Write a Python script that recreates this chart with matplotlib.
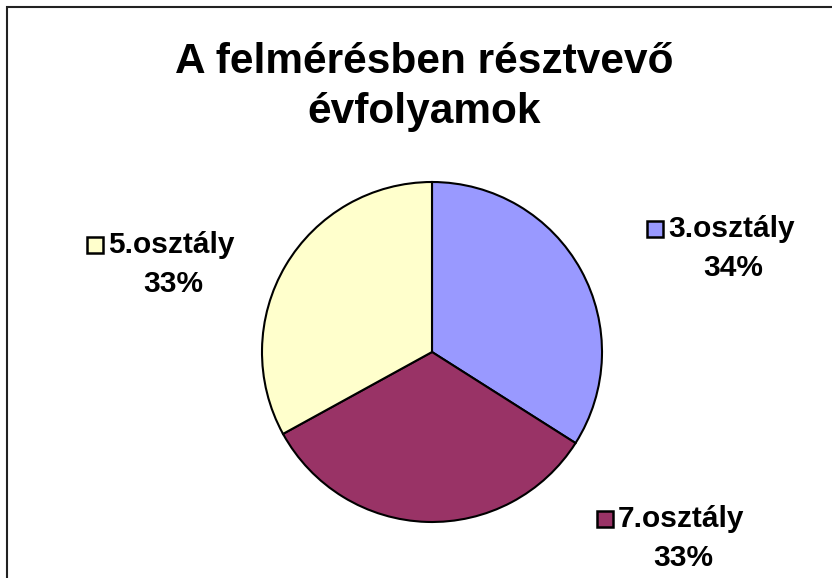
import matplotlib.pyplot as plt
from matplotlib.patches import Rectangle

categories = ["3.osztály", "7.osztály", "5.osztály"]
values = [34, 33, 33]
colors = ["#9999FF", "#993366", "#FFFFCC"]
title = "A felmérésben résztvevő\névfolyamok"

plt.rcParams['font.family'] = ['Liberation Sans', 'DejaVu Sans']

W, H = 832, 578
fig = plt.figure(figsize=(W / 100, H / 100), dpi=100)
ax = fig.add_axes([0, 0, 1, 1])

# chart border (right and bottom run off the image)
ax.add_patch(Rectangle((7, -20), W + 20, H - 7 + 20, fill=False,
                       edgecolor='#222222', linewidth=1.5))

cx, cy, r = 432, H - 352, 170
ax.pie(values, colors=colors, startangle=90, counterclock=False,
       center=(cx, cy), radius=r, frame=True,
       wedgeprops=dict(edgecolor='black', linewidth=1.5))
ax.set_xlim(0, W)
ax.set_ylim(0, H)
ax.axis('off')

ax.text(W / 2 + 8, H - 87, title, ha='center', va='center', fontsize=30.5,
        fontweight='bold', linespacing=1.3)

# label anchor: left of legend square, centre line of the category text
label_pos = [(647, 229), (597, 519), (87, 245)]
total = sum(values)
for cat, val, col, (lx, ly) in zip(categories, values, colors, label_pos):
    ax.add_patch(Rectangle((lx, H - ly - 8), 16, 16, facecolor=col,
                           edgecolor='black', linewidth=1.8))
    ax.text(lx + 21, H - ly, cat, ha='left', va='center', fontsize=21.5,
            fontweight='bold')
    ax.text(lx + 86, H - ly - 39, f"{round(val / total * 100)}%",
            ha='center', va='center', fontsize=21.5, fontweight='bold')

fig.savefig('out.png', dpi=100)
